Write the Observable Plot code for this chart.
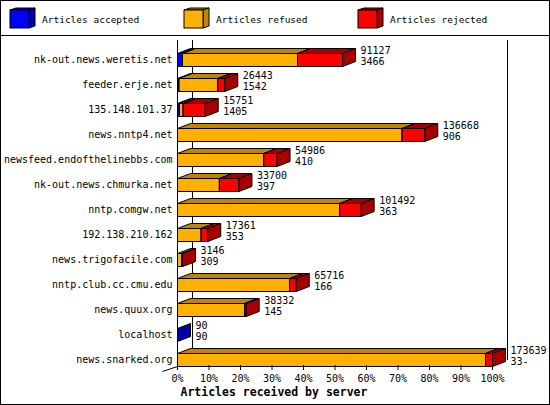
<!DOCTYPE html>
<html><head><meta charset="utf-8">
<script src="https://cdn.jsdelivr.net/npm/d3@7"></script>
<script src="https://cdn.jsdelivr.net/npm/@observablehq/plot@0.6"></script>
<style>
body{margin:0;background:#fff}
#wrap{position:relative;width:550px;height:405px;overflow:hidden;background:#fff;font-family:'DejaVu Sans Mono',monospace}
#legend{position:absolute;left:0;top:0;width:550px;height:35px;border-bottom:1px solid #000}
#chart{position:absolute;left:0;top:36px}
#frame{position:absolute;left:0;top:0;width:550px;height:405px;border:1px solid #000;box-sizing:border-box;pointer-events:none}
</style></head><body>
<div id="wrap"><div id="legend"></div><div id="chart"></div><div id="frame"></div></div>
<script>
// ---- data ----
const servers = ["nk-out.news.weretis.net","feeder.erje.net","135.148.101.37","news.nntp4.net",
  "newsfeed.endofthelinebbs.com","nk-out.news.chmurka.net","nntp.comgw.net","192.138.210.162",
  "news.trigofacile.com","nntp.club.cc.cmu.edu","news.quux.org","localhost","news.snarked.org"];
const accepted = [1.6, 0.5, 0.6, 0, 0, 0, 0, 0, 0, 0, 0, 0, 0];
const refused  = [36.5, 12.3, 1.2, 71.3, 27.4, 13.3, 51.5, 7.5, 1.4, 35.6, 21.3, 0, 97.8];
const rejected = [14.3, 2.2, 7.0, 7.2, 4.2, 6.2, 6.8, 2.1, 0.2, 2.1, 0.5, 0, 2.2];
const totals   = ["91127","26443","15751","136668","54986","33700","101492","17361","3146","65716","38332","90","173639"];
const seconds  = ["3466","1542","1405","906","410","397","363","353","309","166","145","90","33-"];
const seriesNames = ["Articles accepted","Articles refused","Articles rejected"];
const frontColors = ["#0000ff","#ffb000","#ff0000"];
const darkColors  = ["#0000a8","#c08400","#a80000"];
const tickValues = [0,10,20,30,40,50,60,70,80,90,100];
const xTitle = "Articles received by server";

// ---- legend ----
const lg = d3.select("#legend").append("svg").attr("width",550).attr("height",35);
seriesNames.forEach((name,k)=>{
  const x0 = 10 + k*174, y0 = 10, w = 19, h = 18, dx = 6, dy = 2;
  const g = lg.append("g").attr("stroke","#000").attr("stroke-width",1);
  g.append("polygon").attr("points",`${x0},${y0} ${x0+dx},${y0-dy} ${x0+w+dx},${y0-dy} ${x0+w},${y0}`).attr("fill",darkColors[k]);
  g.append("polygon").attr("points",`${x0+w},${y0} ${x0+w+dx},${y0-dy} ${x0+w+dx},${y0+h-dy} ${x0+w},${y0+h}`).attr("fill",darkColors[k]);
  g.append("rect").attr("x",x0).attr("y",y0).attr("width",w).attr("height",h).attr("fill",frontColors[k]);
  lg.append("text").attr("x",x0+32).attr("y",20).attr("dy","0.35em")
    .attr("font-family","'DejaVu Sans Mono',monospace").attr("font-size","9.5px").text(name);
});

// ---- 3D faces built from data ----
const DX = 13/3.15, DY = 0.2, H = 0.26;   // depth offsets (styling)
const faces = [];
let fid = 0;
function poly(color, pts){ const id = fid++; pts.forEach(([x,y])=>faces.push({id, x, y, fill: color})); }
const rows = servers.map((s,i)=>{
  const vals = [accepted[i], refused[i], rejected[i]];
  const any = vals.some(v=>v>0);
  let a = 0;
  vals.forEach((v,k)=>{
    if (v <= 0 && !(k === 0 && !any)) return;
    const b = a + v;
    if (v > 0) {
      poly(frontColors[k], [[a,i-H],[b,i-H],[b,i+H],[a,i+H],[a,i-H]]);
      poly(darkColors[k], [[a,i-H],[a+DX,i-H-DY],[b+DX,i-H-DY],[b,i-H],[a,i-H]]);
    }
    poly(darkColors[k], [[b,i-H],[b+DX,i-H-DY],[b+DX,i+H-DY],[b,i+H],[b,i-H]]);
    a = b;
  });
  return {i, end: a, label: totals[i] + "\n" + seconds[i]};
});
const n = servers.length;

const chart = Plot.plot({
  width: 550, height: 368,
  marginLeft: 177, marginRight: 58, marginTop: 4, marginBottom: 39,
  style: {fontFamily: "'DejaVu Sans Mono',monospace", fontSize: "10px", background: "transparent", color: "#000", overflow: "visible"},
  x: {domain: [0,100]},
  y: {domain: [0, n-1], range: [23.5, 323.5]},
  color: {type: "identity"},
  marks: [
    Plot.ruleX([0,100], {dx: 15, insetBottom: 5, stroke: "#000"}),
    Plot.ruleX([0], {stroke: "#000"}),
    Plot.link([0], {x1: 0, y1: n-1+H, x2: -15/3.15, y2: n-1+H+DY, stroke: "#000"}),
    Plot.line(faces, {x: "x", y: "y", z: "id", fill: "fill", stroke: "#000", strokeWidth: 1, strokeLinejoin: "miter", curve: "linear"}),
    Plot.text(rows, {x: "end", y: "i", text: "label", dx: 18, dy: -4.25, textAnchor: "start", lineAnchor: "middle", lineHeight: 1.15, fill: "#000"}),
    Plot.axisY({ticks: servers.map((d,i)=>i), tickFormat: i=>servers[i], tickSize: 0, tickPadding: 5, label: null}),
    Plot.axisX({ticks: tickValues, tickFormat: d=>d+"%", tickSize: 5, tickPadding: 4, label: null}),
    Plot.text([xTitle], {frameAnchor: "bottom-left", text: d=>d, dx: 3, dy: 26.5, textAnchor: "start", lineAnchor: "middle", fontWeight: "bold", fontSize: 11.5, fill: "#000"})
  ]
});
document.getElementById("chart").appendChild(chart);
</script>
</body></html>
